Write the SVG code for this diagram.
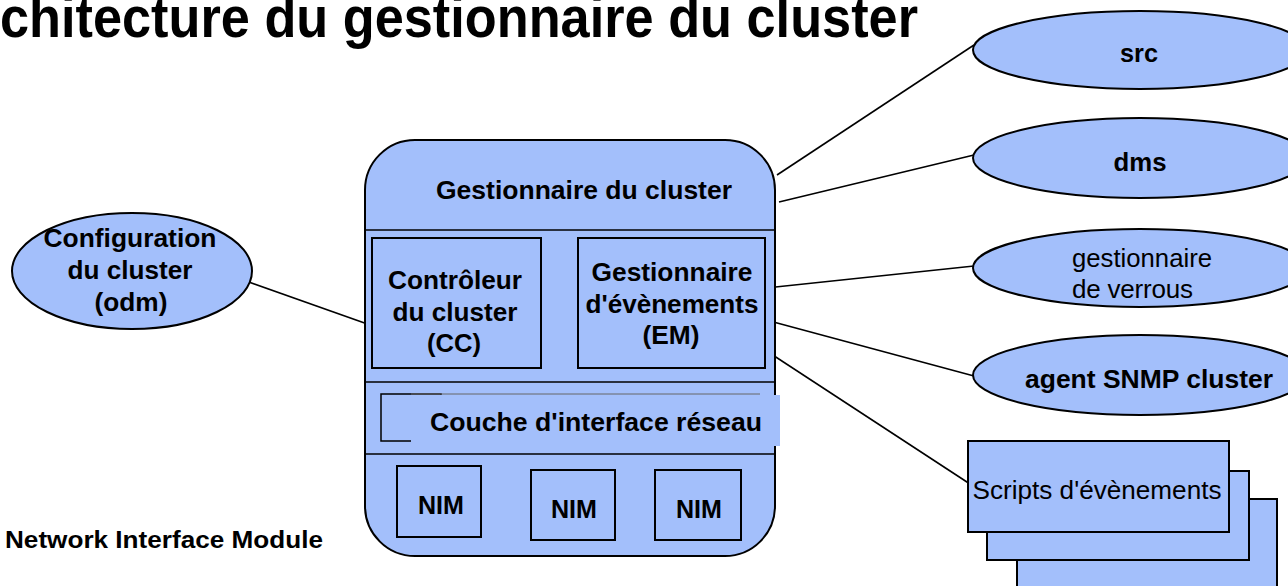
<svg xmlns="http://www.w3.org/2000/svg" width="1288" height="586" viewBox="0 0 1288 586">
  <style>
    .shape { fill: #a3bffb; stroke: #000; stroke-width: 2; }
    .line { stroke: #000; stroke-width: 1.6; fill: none; }
    .b { font-family: "Liberation Sans", Arial, sans-serif; font-weight: bold; font-size: 26px; fill: #000; }
    .r { font-family: "Liberation Sans", Arial, sans-serif; font-size: 26px; fill: #000; }
    .c { text-anchor: middle; }
  </style>
  <rect width="1288" height="586" fill="#fff"/>

  <!-- Title (large condensed heading running off the top-left edge) -->
  <text x="0" y="37" font-family="'Liberation Sans', Arial, sans-serif" font-weight="bold" font-size="58" textLength="918" lengthAdjust="spacingAndGlyphs">chitecture du gestionnaire du cluster</text>

  <!-- Connectors -->
  <g id="connectors">
    <line class="line" x1="246" y1="281" x2="373" y2="326"/>
    <line class="line" x1="777" y1="175" x2="974" y2="45"/>
    <line class="line" x1="779" y1="202" x2="974" y2="155"/>
    <line class="line" x1="766" y1="288" x2="974" y2="266"/>
    <line class="line" x1="766" y1="320" x2="974" y2="376"/>
    <line class="line" x1="762" y1="348" x2="970" y2="484"/>
  </g>

  <!-- Cluster manager -->
  <g id="cluster-manager">
    <rect class="shape" x="365" y="140" width="410" height="416" rx="50" ry="50"/>
    <line class="line" x1="365" y1="230" x2="775" y2="230"/>
    <line class="line" x1="365" y1="382" x2="775" y2="382"/>
    <line class="line" x1="365" y1="454" x2="775" y2="454"/>
    <text class="b c" x="584" y="199" textLength="296" lengthAdjust="spacingAndGlyphs">Gestionnaire du cluster</text>
  </g>

  <g id="cluster-controller">
    <rect class="shape" x="372" y="238" width="169" height="130"/>
    <text class="b c" x="455" y="289" textLength="134" lengthAdjust="spacingAndGlyphs">Contrôleur</text>
    <text class="b c" x="455" y="321" textLength="125" lengthAdjust="spacingAndGlyphs">du cluster</text>
    <text class="b c" x="454" y="352" textLength="54" lengthAdjust="spacingAndGlyphs">(CC)</text>
  </g>

  <g id="event-manager">
    <rect class="shape" x="578" y="238" width="187" height="130"/>
    <text class="b c" x="672" y="281" textLength="161" lengthAdjust="spacingAndGlyphs">Gestionnaire</text>
    <text class="b c" x="672" y="313" textLength="173" lengthAdjust="spacingAndGlyphs">d'évènements</text>
    <text class="b c" x="671" y="344" textLength="57" lengthAdjust="spacingAndGlyphs">(EM)</text>
  </g>

  <g id="network-layer">
    <rect x="381" y="394" width="60" height="47" fill="none" stroke="#000" stroke-width="1.5"/>
    <line x1="411" y1="394" x2="760" y2="394" stroke="#666" stroke-width="1"/>
    <rect x="411" y="395" width="369" height="51" fill="#a3bffb"/>
    <text class="b c" x="596" y="431" textLength="332" lengthAdjust="spacingAndGlyphs">Couche d'interface réseau</text>
  </g>

  <g id="nim-1">
    <rect class="shape" x="397" y="466" width="84" height="71"/>
    <text class="b c" x="441" y="514" textLength="46" lengthAdjust="spacingAndGlyphs">NIM</text>
  </g>
  <g id="nim-2">
    <rect class="shape" x="531" y="470" width="84" height="70"/>
    <text class="b c" x="574" y="518" textLength="46" lengthAdjust="spacingAndGlyphs">NIM</text>
  </g>
  <g id="nim-3">
    <rect class="shape" x="655" y="470" width="86" height="70"/>
    <text class="b c" x="699" y="518" textLength="46" lengthAdjust="spacingAndGlyphs">NIM</text>
  </g>

  <!-- Cluster configuration -->
  <g id="cluster-config">
    <ellipse class="shape" cx="132" cy="271" rx="120" ry="58"/>
    <text class="b c" x="130" y="247" textLength="173" lengthAdjust="spacingAndGlyphs">Configuration</text>
    <text class="b c" x="130" y="279" textLength="125" lengthAdjust="spacingAndGlyphs">du cluster</text>
    <text class="b c" x="131" y="311" textLength="73" lengthAdjust="spacingAndGlyphs">(odm)</text>
  </g>

  <!-- External services -->
  <g id="src">
    <ellipse class="shape" cx="1140" cy="50" rx="167" ry="39"/>
    <text class="b c" x="1139" y="62" textLength="38" lengthAdjust="spacingAndGlyphs">src</text>
  </g>
  <g id="dms">
    <ellipse class="shape" cx="1140" cy="158" rx="167" ry="40"/>
    <text class="b c" x="1140" y="171" textLength="53" lengthAdjust="spacingAndGlyphs">dms</text>
  </g>
  <g id="lock-manager">
    <ellipse class="shape" cx="1140" cy="268" rx="167" ry="39"/>
    <text class="r" x="1072" y="267" textLength="140" lengthAdjust="spacingAndGlyphs">gestionnaire</text>
    <text class="r" x="1072" y="298" textLength="121">de verrous</text>
  </g>
  <g id="snmp-agent">
    <ellipse class="shape" cx="1140" cy="375" rx="167" ry="40"/>
    <text class="b c" x="1149" y="388" textLength="248" lengthAdjust="spacingAndGlyphs">agent SNMP cluster</text>
  </g>

  <g id="event-scripts">
    <rect class="shape" x="1017" y="499" width="260" height="100"/>
    <rect class="shape" x="987" y="471" width="262" height="89"/>
    <rect class="shape" x="968" y="441" width="261" height="91"/>
    <text class="r" x="1097" y="499" text-anchor="middle" textLength="249" lengthAdjust="spacingAndGlyphs">Scripts d'évènements</text>
  </g>

  <text x="5" y="548" font-family="'Liberation Sans', Arial, sans-serif" font-weight="bold" font-size="23" textLength="318" lengthAdjust="spacingAndGlyphs">Network Interface Module</text>
</svg>
